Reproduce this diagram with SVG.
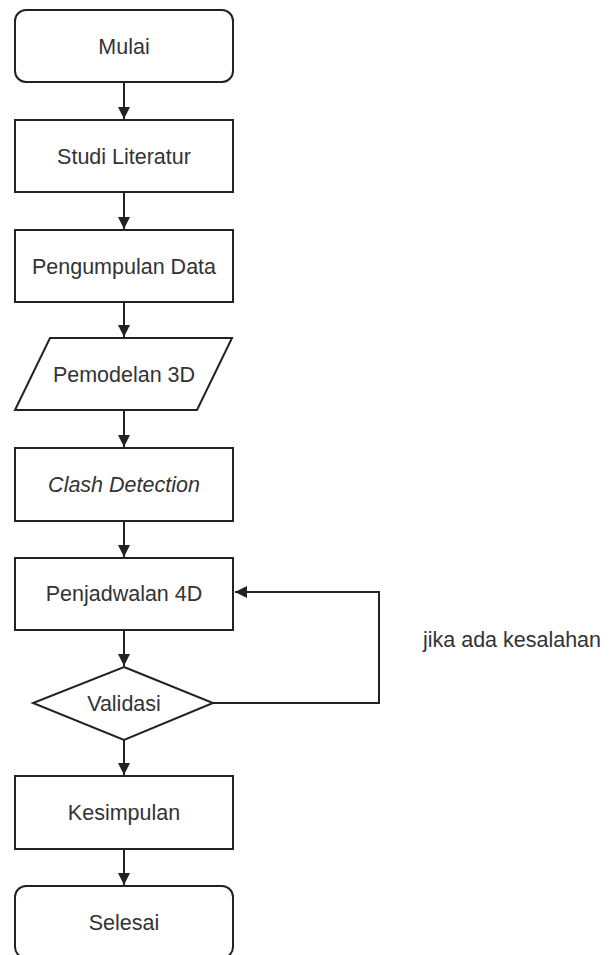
<svg xmlns="http://www.w3.org/2000/svg" width="614" height="955" viewBox="0 0 614 955">
<style>
.s{fill:#fff;stroke:#222;stroke-width:2}
.t{font-family:"Liberation Sans",Arial,sans-serif;font-size:21.5px;fill:#333;text-anchor:middle}
.c{fill:none;stroke:#222;stroke-width:2}
</style>
<defs>
<marker id="a" viewBox="0 0 10 10" refX="10" refY="5" markerWidth="6" markerHeight="6" orient="auto" markerUnits="strokeWidth">
<path d="M0,0 L10,5 L0,10 Z" fill="#222"/>
</marker>
</defs>
<rect width="614" height="955" fill="#fff"/>
<g id="connectors">
<line class="c" x1="124" y1="82" x2="124" y2="119" marker-end="url(#a)"/>
<line class="c" x1="124" y1="192" x2="124" y2="229" marker-end="url(#a)"/>
<line class="c" x1="124" y1="302" x2="124" y2="337" marker-end="url(#a)"/>
<line class="c" x1="124" y1="410" x2="124" y2="447" marker-end="url(#a)"/>
<line class="c" x1="124" y1="521" x2="124" y2="557" marker-end="url(#a)"/>
<line class="c" x1="124" y1="630" x2="124" y2="666" marker-end="url(#a)"/>
<line class="c" x1="124" y1="740" x2="124" y2="775" marker-end="url(#a)"/>
<line class="c" x1="124" y1="849" x2="124" y2="885" marker-end="url(#a)"/>
<polyline class="c" points="213,703 379,703 379,592 235,592" marker-end="url(#a)"/>
<text class="t" x="512" y="647">jika ada kesalahan</text>
</g>
<g id="mulai"><rect class="s" x="15" y="10" width="218" height="72" rx="11"/><text class="t" x="124" y="54">Mulai</text></g>
<g id="studi"><rect class="s" x="15" y="120" width="218" height="72"/><text class="t" x="124" y="164">Studi Literatur</text></g>
<g id="pengumpulan"><rect class="s" x="15" y="230" width="218" height="72"/><text class="t" x="124" y="274">Pengumpulan Data</text></g>
<g id="pemodelan"><polygon class="s" points="50,338 232,338 197,410 15,410"/><text class="t" x="124" y="382">Pemodelan 3D</text></g>
<g id="clash"><rect class="s" x="15" y="448" width="218" height="73"/><text class="t" x="124" y="492" font-style="italic">Clash Detection</text></g>
<g id="penjadwalan"><rect class="s" x="15" y="558" width="218" height="72"/><text class="t" x="124" y="601">Penjadwalan 4D</text></g>
<g id="validasi"><polygon class="s" points="124,667 213,703 124,740 33,703"/><text class="t" x="124" y="711">Validasi</text></g>
<g id="kesimpulan"><rect class="s" x="15" y="776" width="218" height="73"/><text class="t" x="124" y="820">Kesimpulan</text></g>
<g id="selesai"><rect class="s" x="15" y="886" width="218" height="72" rx="11"/><text class="t" x="124" y="930">Selesai</text></g>
</svg>
